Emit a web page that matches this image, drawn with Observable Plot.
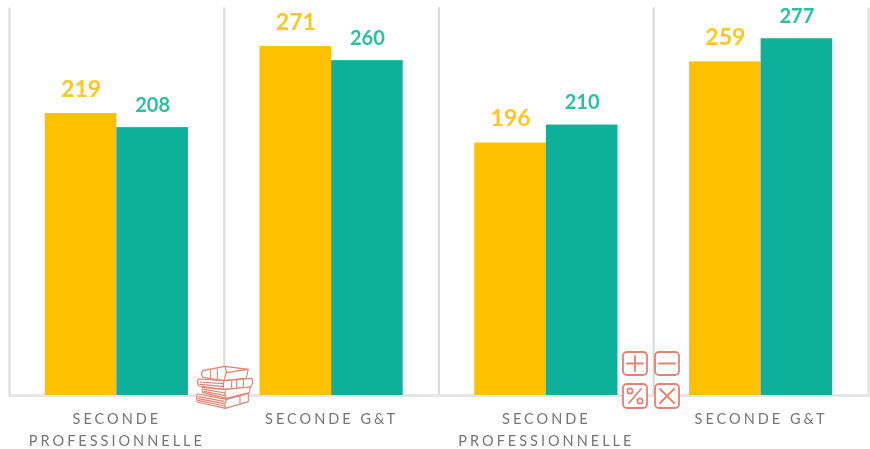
<!DOCTYPE html>
<html lang="fr">
<head>
<meta charset="utf-8">
<script src="https://cdn.jsdelivr.net/npm/d3@7"></script>
<script src="https://cdn.jsdelivr.net/npm/@observablehq/plot@0.6"></script>
<style>
  html, body { margin: 0; background: #fff; }
  #wrap { position: relative; width: 870px; height: 449px; overflow: hidden; filter: blur(0.5px); }
  #wrap svg.icon { position: absolute; fill: none; stroke: #e2836f; stroke-linejoin: round; stroke-linecap: round; overflow: visible; }
  g[aria-label="fx-axis tick label"] text { letter-spacing: 3px; }
</style>
</head>
<body>
<div id="wrap"></div>
<script>
const groupIds = [0, 1, 2, 3];
const groupLabels = ["SECONDE\nPROFESSIONNELLE", "SECONDE G&T", "SECONDE\nPROFESSIONNELLE", "SECONDE G&T"];
const seriesNames = ["A", "B"];
const barColors = ["#ffc000", "#0fb09a"];
const labelColors = ["#ffc71f", "#2bbfa6"];
const valuesA = [219, 271, 196, 259];
const valuesB = [208, 260, 210, 277];

const rows = groupIds.flatMap(g => [
  {g, s: seriesNames[0], v: valuesA[g]},
  {g, s: seriesNames[1], v: valuesB[g]}
]);

const chart = Plot.plot({
  width: 870,
  height: 449,
  marginTop: 8,
  marginRight: 2,
  marginBottom: 54,
  marginLeft: 9,
  style: {fontFamily: "Lato, sans-serif", background: "#fff"},
  fx: {domain: groupIds, padding: 0, round: false, label: null, axis: null},
  x: {domain: seriesNames, paddingInner: 0, paddingOuter: 0.5, round: false, axis: null},
  y: {domain: [0, 300.5], axis: null},
  color: {domain: seriesNames, range: barColors},
  marks: [
    Plot.frame({anchor: "left", stroke: "#dcdcdc", strokeWidth: 2}),
    Plot.frame({anchor: "right", stroke: "#dcdcdc", strokeWidth: 2}),
    Plot.ruleY([0], {stroke: "#e6e6e6", strokeWidth: 3}),
    Plot.barY(rows, {fx: "g", x: "s", y: "v", fill: "s"}),
    Plot.text(rows.filter(d => d.s === seriesNames[0]), {
      fx: "g", x: "s", y: "v", text: "v", dy: -24,
      fill: labelColors[0], fontSize: 23, fontWeight: 700
    }),
    Plot.text(rows.filter(d => d.s === seriesNames[1]), {
      fx: "g", x: "s", y: "v", text: "v", dy: -22,
      fill: labelColors[1], fontSize: 20, fontWeight: 700
    }),
    Plot.axisFx({
      anchor: "bottom", tickSize: 0, tickPadding: 13, label: null,
      tickFormat: d => groupLabels[d], fontSize: 14.5, lineHeight: 1.5,
      fill: "#757575"
    })
  ]
});

const wrap = document.getElementById("wrap");
wrap.appendChild(chart);

// Decorative icons, drawn in place over the chart
wrap.insertAdjacentHTML("beforeend", `
<svg class="icon" style="left:180px;top:350px" width="110" height="99" viewBox="0 0 330 297" stroke-width="3.4">
  <path fill="#fff" d="M68 62L135 49L205 58L198 85L132 92L68 82Q62 72 68 62ZM135 49L140 68L205 58M92 60V84M112 56V87M138 68L132 92"/>
  <path fill="#fff" d="M55 87L132 92L215 85Q223 98 211 111L132 118L56 108Q50 97 55 87ZM132 92Q128 105 132 118M155 92V115M170 90V113M190 88V112M60 96L128 101M60 103L128 109"/>
  <path fill="#fff" d="M68 112L132 119L211 111L208 128L140 145L68 128Q64 120 68 112ZM72 118L136 129M72 124L136 137M136 124Q132 135 140 145"/>
  <path fill="#fff" d="M52 132L140 148L205 130V155L136 175L52 156Q47 144 52 132ZM140 148Q132 160 136 175M56 140L132 154M55 146L132 161M55 151L132 168M180 137V160"/>
</svg>
<svg class="icon" style="left:622px;top:351px" width="58" height="58" viewBox="0 0 58 58" stroke-width="1.8">
  <rect fill="#fff" x="1" y="1" width="24" height="23" rx="4"/>
  <rect fill="#fff" x="33" y="1" width="24" height="23" rx="4"/>
  <rect fill="#fff" x="1" y="33" width="24" height="24" rx="4"/>
  <rect fill="#fff" x="33" y="33" width="24" height="24" rx="4"/>
  <path d="M13 5V20M5 12.5H21M37 12.5H53M38 38L52 52M52 38L38 52M7 52L19 38"/>
  <circle cx="8" cy="40" r="2.6"/><circle cx="18" cy="50" r="2.6"/>
</svg>`);
</script>
</body>
</html>
